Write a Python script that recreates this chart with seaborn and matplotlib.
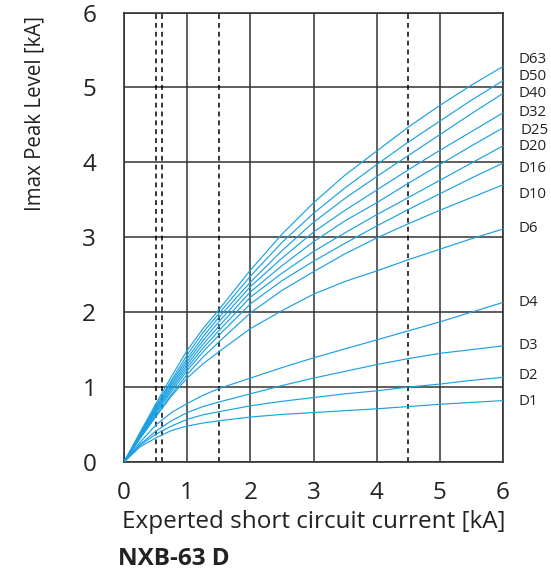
import matplotlib
matplotlib.use("Agg")
import matplotlib.pyplot as plt
import seaborn as sns
import pandas as pd

# ---- data ----
x_vals = [0, 0.25, 0.5, 0.75, 1, 1.25, 1.5, 2, 2.5, 3, 3.5, 4, 4.5, 5, 5.5, 6]

D63 = [0, 0.39, 0.77, 1.14, 1.49, 1.78, 2.03, 2.56, 3.04, 3.46, 3.83, 4.15, 4.47, 4.76, 5.03, 5.28]
D50 = [0, 0.37, 0.74, 1.09, 1.43, 1.73, 1.98, 2.48, 2.93, 3.32, 3.66, 3.97, 4.27, 4.55, 4.83, 5.09]
D40 = [0, 0.36, 0.72, 1.06, 1.38, 1.67, 1.93, 2.40, 2.82, 3.20, 3.52, 3.81, 4.09, 4.37, 4.65, 4.92]
D32 = [0, 0.35, 0.70, 1.03, 1.34, 1.62, 1.87, 2.34, 2.72, 3.07, 3.36, 3.63, 3.90, 4.16, 4.41, 4.66]
D25 = [0, 0.34, 0.68, 1.00, 1.30, 1.57, 1.81, 2.27, 2.62, 2.94, 3.22, 3.46, 3.72, 3.97, 4.22, 4.46]
D20 = [0, 0.33, 0.66, 0.97, 1.26, 1.52, 1.75, 2.20, 2.52, 2.81, 3.06, 3.30, 3.53, 3.76, 3.99, 4.22]
D16 = [0, 0.32, 0.64, 0.94, 1.22, 1.47, 1.69, 2.11, 2.42, 2.68, 2.92, 3.15, 3.37, 3.58, 3.79, 3.99]
D10 = [0, 0.31, 0.61, 0.90, 1.17, 1.40, 1.60, 1.99, 2.29, 2.54, 2.78, 2.99, 3.18, 3.36, 3.53, 3.70]
D6 = [0, 0.31, 0.60, 0.88, 1.12, 1.31, 1.47, 1.78, 2.02, 2.24, 2.41, 2.55, 2.70, 2.84, 2.98, 3.11]
D4 = [0, 0.26, 0.49, 0.66, 0.78, 0.89, 0.98, 1.12, 1.26, 1.39, 1.51, 1.63, 1.75, 1.87, 2.00, 2.13]
D3 = [0, 0.23, 0.41, 0.55, 0.66, 0.74, 0.80, 0.91, 1.02, 1.12, 1.21, 1.30, 1.38, 1.45, 1.50, 1.55]
D2 = [0, 0.22, 0.37, 0.48, 0.57, 0.63, 0.67, 0.75, 0.81, 0.86, 0.91, 0.95, 1.00, 1.04, 1.09, 1.13]
D1 = [0, 0.20, 0.32, 0.42, 0.48, 0.52, 0.55, 0.60, 0.635, 0.66, 0.685, 0.71, 0.74, 0.77, 0.795, 0.82]

series_names = ["D63", "D50", "D40", "D32", "D25", "D20", "D16", "D10", "D6", "D4", "D3", "D2", "D1"]
series_values = [D63, D50, D40, D32, D25, D20, D16, D10, D6, D4, D3, D2, D1]
# label positions (y value where each curve label sits at the right)
label_y = [5.37, 5.14, 4.92, 4.67, 4.43, 4.21, 3.92, 3.57, 3.12, 2.13, 1.56, 1.16, 0.81]

dashed_x = [0.5, 0.6, 1.5, 4.5]
tick_vals = [0, 1, 2, 3, 4, 5, 6]
tick_labels = ["0", "1", "2", "3", "4", "5", "6"]

x_label = "Experted short circuit current [kA]"
y_label = "Imax Peak Level [kA]"
title = "NXB-63 D"

# ---- build long table ----
rows = []
for name, vals in zip(series_names, series_values):
    for xv, yv in zip(x_vals, vals):
        rows.append({"x": xv, "y": yv, "curve": name})
df = pd.DataFrame(rows)

sns.set_theme(style="white")
plt.rcParams["font.family"] = ["Open Sans", "DejaVu Sans"]

W, H = 551, 582
fig = plt.figure(figsize=(W / 100, H / 100), dpi=100)
ax = fig.add_axes([124 / W, 1 - 462 / H, (503 - 124) / W, (462 - 12.5) / H])

grid_color = "#333333"
line_color = "#1ba1e2"
text_color = "#222222"

ax.set_xlim(0, 6)
ax.set_ylim(0, 6)
ax.set_xticks(tick_vals)
ax.set_yticks(tick_vals)
ax.set_xticklabels(tick_labels)
ax.set_yticklabels(tick_labels)
ax.grid(True, color=grid_color, lw=1.1, zorder=1)
ax.set_axisbelow(True)
for s in ax.spines.values():
    s.set_visible(True)
    s.set_color(grid_color)
    s.set_linewidth(1.2)

for xv in dashed_x:
    ax.axvline(xv, color="black", lw=1.1, ls=(0, (3.2, 2.6)), zorder=2)

sns.lineplot(data=df, x="x", y="y", hue="curve", units="curve", estimator=None,
             palette={n: line_color for n in series_names}, legend=False,
             sort=False, lw=0.85, ax=ax, zorder=3)

ax.tick_params(axis="both", length=0, labelsize=17.5, colors=text_color)
ax.tick_params(axis="x", pad=14)
ax.tick_params(axis="y", pad=20)
ax.set_xlabel(x_label, fontsize=17.5, color=text_color, labelpad=3)
ax.set_ylabel("")

for name, ly in zip(series_names, label_y):
    ax.text(6.24 + (0.03 if name == "D25" else 0), ly, name, fontsize=10.8,
            color=text_color, va="center", ha="left", clip_on=False)

fig.text(35 / W, 1 - 16 / H, y_label, rotation=90, ha="center", va="top",
         fontsize=14.8, color=text_color)
fig.text(118 / W, 1 - 559 / H, title, ha="left", va="center",
         fontsize=17.5, fontweight="bold", color=text_color)

fig.savefig("out.png", dpi=100)
